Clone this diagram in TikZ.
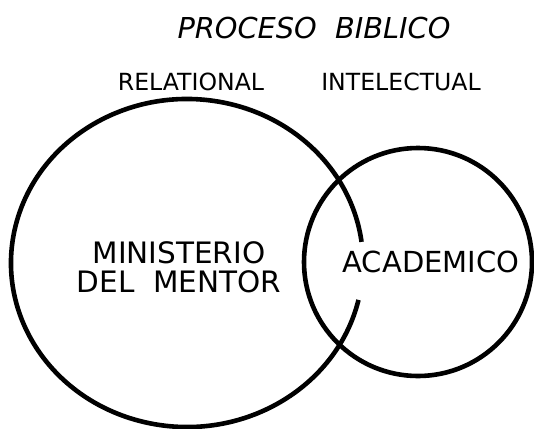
\documentclass[tikz,border=0pt]{standalone}
\usepackage{fontspec}
\setmainfont{DejaVu Sans}
\usetikzlibrary{positioning}

\begin{document}
\begin{tikzpicture}[x=1pt,y=-1pt,
    ring/.style={line width=4.6pt},
    side/.style={anchor=base,font=\fontsize{23.6}{28}\selectfont},
    inside/.style={anchor=base,font=\fontsize{29.5}{29}\selectfont,align=center}]
  \useasboundingbox (0,0) rectangle (534,428);
  \coordinate (mentor) at (187,263);
  \coordinate (acad) at (418,262);

  % circles
  \draw [ring] (acad) circle [radius=114];
  \draw [ring] (mentor) ++(13:176 and 164) arc [start angle=13, end angle=352.6, x radius=176, y radius=164];

  % labels
  \node [anchor=base,font=\fontsize{28.8}{30}\selectfont\itshape] (title) at (314,38) {PROCESO\ \ BIBLICO};
  \node [side] (rel) at (191,90) {RELATIONAL};
  \node [side] (int) at (401,90) {INTELECTUAL};
  \node [inside] (min) at (179,263) {MINISTERIO};
  \node [inside] (del) at (179,292) {DEL\ \ MENTOR};
  \node [inside,font=\fontsize{29}{29}\selectfont] (aca) at (431,272) {ACADEMICO};
\end{tikzpicture}
\end{document}
